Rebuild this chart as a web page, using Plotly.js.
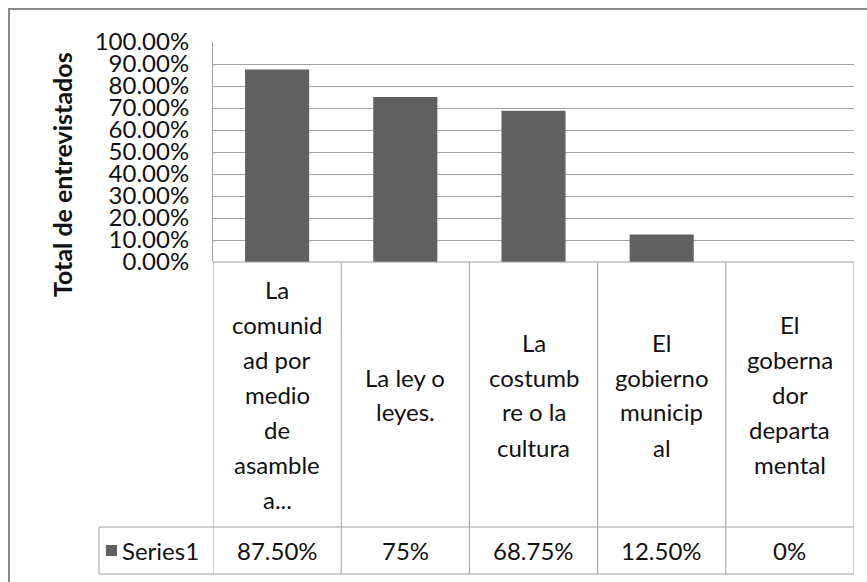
<!DOCTYPE html>
<html>
<head>
<meta charset="utf-8">
<script src="https://cdn.plot.ly/plotly-3.0.1.min.js"></script>
<style>html,body{margin:0;padding:0;background:#fff;}#chart{width:867px;height:582px;}</style>
</head>
<body>
<div id="chart"></div>
<script>
// ---- data ----
const categoryLabels = [
  "La|comunid|ad por|medio|de|asamble|a...",
  "La ley o|leyes.",
  "La|costumb|re o la|cultura",
  "El|gobierno|municip|al",
  "El|goberna|dor|departa|mental"
];
const values = [0.875, 0.75, 0.6875, 0.125, 0];
const valueLabels = ["87.50%", "75%", "68.75%", "12.50%", "0%"];
const seriesName = "Series1";
const yTitle = "Total de entrevistados";
const yTickVals = [0, 0.1, 0.2, 0.3, 0.4, 0.5, 0.6, 0.7, 0.8, 0.9, 1.0];

// ---- geometry helpers ----
const W = 867, H = 582, L = 213, R = 13, T = 42, B = 0;
const px2x = p => (p - L) / (W - L - R);
const py2y = p => (H - B - p) / (H - T - B);
const FONT = "Lato, 'Open Sans', sans-serif";
const FS = 24;
const TXT = "#111";
const GRID = "#a0a0a0";

const cats = categoryLabels.map(s => s.split("|").join(" "));
const n = cats.length;

const shapes = [];
const annotations = [];

// outer chart border
shapes.push({type: "rect", xref: "paper", yref: "paper",
  x0: px2x(9), x1: px2x(872), y0: py2y(590), y1: py2y(9),
  line: {color: "#8a8a8a", width: 2}, fillcolor: "rgba(0,0,0,0)", layer: "below"});

// data table lines
const yAxisBottom = 262, headerBottom = 527, tableBottom = 574, legendLeft = 99;
for (let i = 0; i <= n; i++) {
  shapes.push({type: "line", xref: "x", yref: "paper",
    x0: i - 0.5, x1: i - 0.5, y0: py2y(yAxisBottom), y1: py2y(tableBottom),
    line: {color: GRID, width: 1}});
}
shapes.push({type: "line", xref: "x", yref: "paper", x0: -0.5, x1: n - 0.5,
  y0: py2y(yAxisBottom), y1: py2y(yAxisBottom), line: {color: GRID, width: 1}});
[headerBottom, tableBottom].forEach(p => {
  shapes.push({type: "line", xref: "paper", yref: "paper", x0: px2x(legendLeft), x1: 1,
    y0: py2y(p), y1: py2y(p), line: {color: GRID, width: 1}});
});
shapes.push({type: "line", xref: "paper", yref: "paper", x0: px2x(legendLeft), x1: px2x(legendLeft),
  y0: py2y(headerBottom), y1: py2y(tableBottom), line: {color: GRID, width: 1}});

// legend key
const rowMid = (headerBottom + tableBottom) / 2;
shapes.push({type: "rect", xref: "paper", yref: "paper",
  x0: px2x(106), x1: px2x(117), y0: py2y(rowMid + 5.5), y1: py2y(rowMid - 5.5),
  fillcolor: "#606060", line: {width: 0}});
annotations.push({xref: "paper", yref: "paper", x: px2x(120), y: py2y(rowMid),
  xanchor: "left", yanchor: "middle", showarrow: false, text: seriesName,
  font: {family: FONT, size: FS, color: TXT}});

// header texts
const headerMid = (yAxisBottom + headerBottom) / 2;
const lineGap = 35;
categoryLabels.forEach((lab, i) => {
  const lines = lab.split("|");
  lines.forEach((ln, j) => {
    annotations.push({xref: "x", yref: "paper", x: i,
      y: py2y(headerMid + (j - (lines.length - 1) / 2) * lineGap),
      xanchor: "center", yanchor: "middle", showarrow: false, text: ln,
      font: {family: FONT, size: FS, color: TXT}});
  });
});
// value row
valueLabels.forEach((v, i) => {
  annotations.push({xref: "x", yref: "paper", x: i, y: py2y(rowMid),
    xanchor: "center", yanchor: "middle", showarrow: false, text: v,
    font: {family: FONT, size: FS, color: TXT}});
});

// y axis title
annotations.push({xref: "paper", yref: "paper", x: px2x(62), y: py2y(175),
  xanchor: "center", yanchor: "middle", showarrow: false, textangle: -90,
  text: "<b>" + yTitle + "</b>", font: {family: FONT, size: 25, color: TXT}});

const trace = {
  type: "bar", x: cats, y: values, name: seriesName,
  marker: {color: "#606060", line: {width: 0}},
  hoverinfo: "skip"
};

const layout = {
  width: W, height: H,
  margin: {l: L, r: R, t: T, b: B, pad: 0},
  paper_bgcolor: "#fff", plot_bgcolor: "#fff",
  showlegend: false,
  bargap: 0.5,
  xaxis: {type: "category", range: [-0.5, n - 0.5], showticklabels: false,
    showgrid: false, zeroline: false, showline: false, ticks: "", fixedrange: true},
  yaxis: {domain: [py2y(yAxisBottom), 1], range: [0, 1], tickvals: yTickVals,
    tickformat: ".2%", showgrid: true, gridcolor: GRID, gridwidth: 1,
    zeroline: false, showline: true, linecolor: GRID, linewidth: 1, ticks: "",
    ticklabelstandoff: 18,
    tickfont: {family: FONT, size: FS, color: TXT}, fixedrange: true},
  shapes: shapes,
  annotations: annotations,
  font: {family: FONT}
};

Plotly.newPlot("chart", [trace], layout, {displayModeBar: false, staticPlot: true});
</script>
</body>
</html>
